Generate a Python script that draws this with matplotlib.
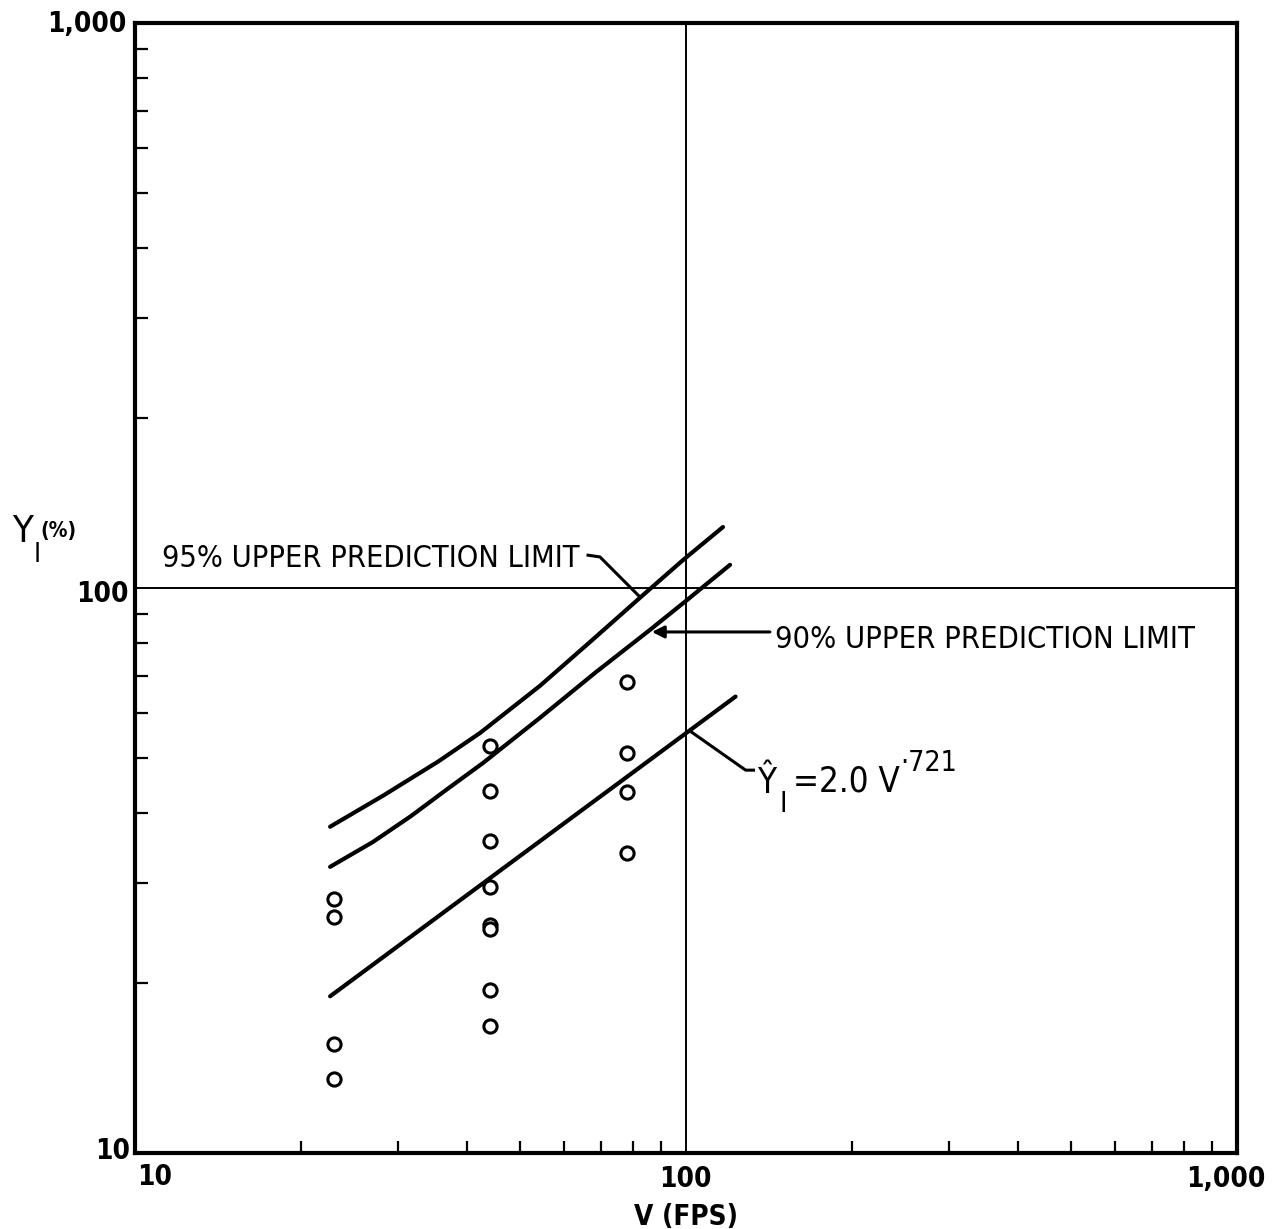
import numpy as np
import matplotlib
matplotlib.use("Agg")
import matplotlib.pyplot as plt
from matplotlib import font_manager as fm
from matplotlib.ticker import LogLocator, NullFormatter

# Observed impact data: velocity V (ft/s) and response Y1 (%)
v_obs = [23, 23, 23, 23,
         44, 44, 44, 44, 44, 44, 44, 44,
         78, 78, 78, 78]
y_obs = [28.1, 26.2, 15.6, 13.5,
         52.6, 43.8, 35.7, 29.6, 25.3, 24.9, 19.4, 16.8,
         68.3, 51.0, 43.5, 33.9]

# Regression fit  Y1 = 2.0 * V^0.721
fit_coef = 2.0
fit_exp = 0.721
fit_v_range = [22.6, 123.0]

# 95% upper prediction limit
pl95_v = [22.6, 28.2, 35.5, 42.3, 54.3, 67.3, 83.6, 98.8, 116.7]
pl95_y = [37.8, 42.9, 49.3, 55.4, 67.1, 80.6, 97.2, 112.1, 128.2]

# 90% upper prediction limit
pl90_v = [22.6, 27.0, 31.6, 36.8, 42.8, 54.3, 68.3, 86.0, 100.4, 120.2]
pl90_y = [32.1, 35.5, 39.4, 44.0, 49.0, 58.9, 70.7, 84.3, 95.2, 109.9]

x_ticks = [10, 100, 1000]
x_tick_labels = ["10", "100", "1,000"]
y_ticks = [10, 100, 1000]
y_tick_labels = ["10", "100", "1,000"]

W, H = 1282, 1229
fig = plt.figure(figsize=(W / 100, H / 100), dpi=100)
ax = fig.add_axes([135 / W, 1 - 1153 / H, (1237 - 135) / W, (1153 - 23) / H])

# Prefer a narrow sans face for the lettering
_entries = fm.fontManager.ttflist
_available = {(f.name, f.stretch) for f in _entries}
_names = {f.name for f in _entries}
FONT, STRETCH = "DejaVu Sans", "normal"
for name, stretch in [("Liberation Sans Narrow", None), ("DejaVu Sans", "condensed"),
                      ("Noto Sans", "condensed"), ("Roboto Condensed", None),
                      ("Open Sans", "condensed"), ("Roboto", None)]:
    if stretch is None and name in _names:
        FONT, STRETCH = name, "normal"
        break
    if stretch is not None and (name, stretch) in _available:
        FONT, STRETCH = name, stretch
        break


def _is_bold(w):
    if isinstance(w, str):
        return w in ("bold", "heavy", "extra bold", "black", "demibold", "semibold")
    return w >= 600


HEAVY = "bold" if any(f.name == FONT and f.stretch == STRETCH and _is_bold(f.weight)
                      for f in _entries) else "normal"

ax.set_xscale("log")
ax.set_yscale("log")
ax.set_xlim(10, 1000)
ax.set_ylim(10, 1000)

for s in ax.spines.values():
    s.set_linewidth(3.0)
    s.set_color("black")

ax.xaxis.set_minor_locator(LogLocator(base=10, subs=np.arange(2, 10)))
ax.yaxis.set_minor_locator(LogLocator(base=10, subs=np.arange(2, 10)))
ax.xaxis.set_minor_formatter(NullFormatter())
ax.yaxis.set_minor_formatter(NullFormatter())
ax.set_xticks(x_ticks)
ax.set_yticks(y_ticks)
ax.set_xticklabels([])
ax.set_yticklabels([])
ax.tick_params(which="major", length=0)
ax.tick_params(which="minor", direction="in", length=9, width=1.6,
               bottom=True, left=True, top=False, right=False)

# Crosshair reference lines at 100
ax.axvline(100, color="black", lw=1.4, zorder=1)
ax.axhline(100, color="black", lw=1.4, zorder=1)

# Fitted line and prediction limits
v_fit = np.geomspace(fit_v_range[0], fit_v_range[1], 50)
ax.plot(v_fit, fit_coef * v_fit ** fit_exp, color="black", lw=3.0,
        solid_capstyle="round", zorder=3)
ax.plot(pl95_v, pl95_y, color="black", lw=3.0, solid_capstyle="round",
        solid_joinstyle="round", zorder=3)
ax.plot(pl90_v, pl90_y, color="black", lw=3.0, solid_capstyle="round",
        solid_joinstyle="round", zorder=3)

ax.plot(v_obs, y_obs, linestyle="none", marker="o", markersize=9.5,
        markerfacecolor="white", markeredgecolor="black", markeredgewidth=2.2,
        zorder=4)

# Leader lines
ax.plot([66.4, 69.8, 82.5], [114.3, 113.5, 96.4], color="black", lw=2.2, zorder=3)
ax.annotate("", xy=(86.7, 83.6), xytext=(142.0, 83.6),
            arrowprops=dict(arrowstyle="-|>", color="black", lw=2.2,
                            mutation_scale=18, shrinkA=0, shrinkB=0))
ax.plot([101.5, 128.3, 132.6], [55.9, 47.6, 47.6], color="black", lw=2.2, zorder=3)

fig.canvas.draw()
_renderer = fig.canvas.get_renderer()


def ftext(px, py, s, size, weight="normal", ha="left", va="baseline", width=None):
    t = fig.text(px / W, 1 - py / H, s, fontsize=size, fontweight=weight,
                 ha=ha, va=va, family=FONT, fontstretch=STRETCH)
    if width is not None:
        w = t.get_window_extent(_renderer).width
        t.set_fontsize(size * width / w)
    return t.get_fontsize() / size


# Tick labels
ftext(126, 24, y_tick_labels[2], 20, HEAVY, ha="right", va="center")
ftext(129, 594, y_tick_labels[1], 20, HEAVY, ha="right", va="center")
ftext(130, 1151, y_tick_labels[0], 20, HEAVY, ha="right", va="center")
ftext(137, 1177, x_tick_labels[0], 20, HEAVY, ha="left", va="center")
ftext(685, 1179, x_tick_labels[1], 20, HEAVY, ha="center", va="center")
ftext(1226, 1179, x_tick_labels[2], 20, HEAVY, ha="center", va="center")

# Axis titles
ftext(686, 1225, "V (FPS)", 20, HEAVY, ha="center")
ftext(12, 542, "Y", 23, width=21)
ftext(34, 562, "I", 19)
ftext(40, 537, "(%)", 15, HEAVY)

# Curve labels
ftext(162, 567, "95% UPPER PREDICTION LIMIT", 24, width=418)
ftext(775, 648, "90% UPPER PREDICTION LIMIT", 24, width=420)
k = ftext(793, 792, "=2.0 V", 22, width=107)
ftext(757, 793, "\u0176", 22 * k)
ftext(780, 812, "I", 18 * k)
ftext(900, 771, "\u00b7721", 18 * k)

fig.savefig("out.png", dpi=100, facecolor="white")
